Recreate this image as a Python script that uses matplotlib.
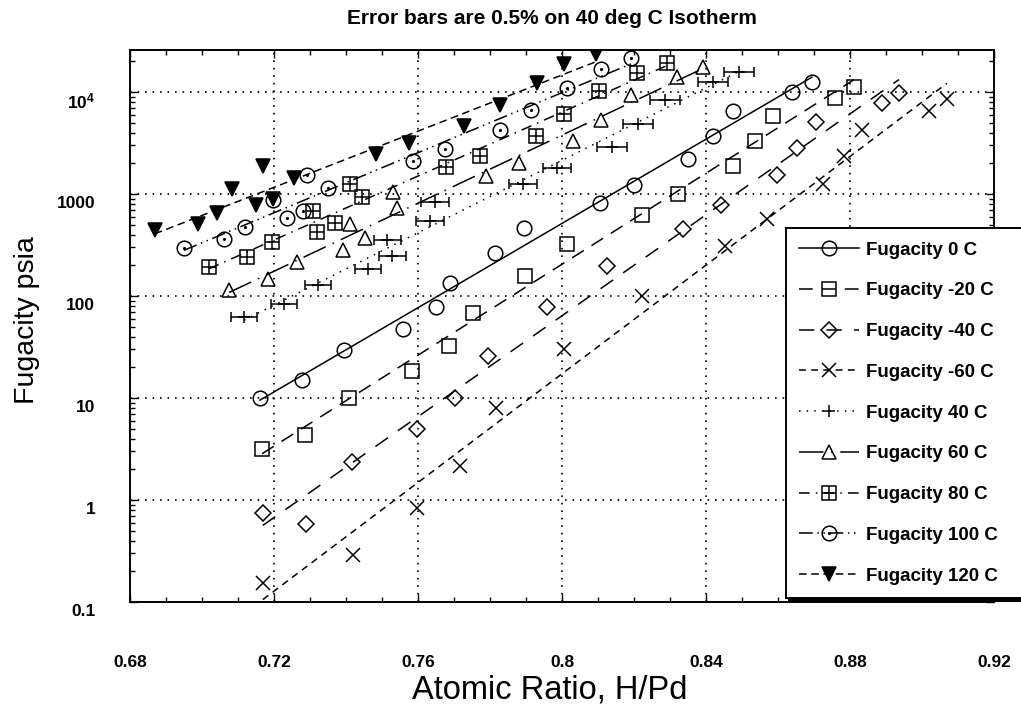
import numpy as np
import matplotlib
matplotlib.use("Agg")
import matplotlib.pyplot as plt
import matplotlib.transforms as mtransforms
from matplotlib.lines import Line2D
from matplotlib.ticker import FixedLocator, LogLocator, MultipleLocator, NullFormatter

plt.rcParams['font.family'] = ['Liberation Sans', 'DejaVu Sans']
plt.rcParams['mathtext.fontset'] = 'custom'
plt.rcParams['mathtext.rm'] = 'Liberation Sans'
plt.rcParams['mathtext.bf'] = 'Liberation Sans:bold'

# ---- data (H/Pd ratio, fugacity in psia) ----
x_0c = [0.7161, 0.7278, 0.7394, 0.7558, 0.7650, 0.7689, 0.7814, 0.7894, 0.8106, 0.8200, 0.8350, 0.8419, 0.8475, 0.8639, 0.8694]
f_0c = [10.1, 14.9, 29.4, 47.8, 78.6, 135, 266, 467, 811, 1225, 2188, 3704, 6510, 10070, 12620]

x_m20 = [0.7167, 0.7286, 0.7408, 0.7583, 0.7686, 0.7753, 0.7897, 0.8014, 0.8222, 0.8322, 0.8475, 0.8536, 0.8586, 0.8758, 0.8811]
f_m20 = [3.16, 4.34, 10.0, 18.4, 32.3, 68.1, 157, 323, 623, 1000, 1883, 3311, 5820, 8730, 11200]

x_m40 = [0.7169, 0.7289, 0.7417, 0.7597, 0.7703, 0.7794, 0.7958, 0.8125, 0.8336, 0.8442, 0.8597, 0.8653, 0.8706, 0.8889, 0.8936]
f_m40 = [0.75, 0.58, 2.36, 4.97, 10.0, 25.8, 78, 197, 454, 780, 1535, 2825, 5080, 7800, 9770]

x_m60 = [0.7169, 0.7419, 0.7597, 0.7717, 0.7817, 0.8006, 0.8222, 0.8453, 0.8569, 0.8725, 0.8783, 0.8833, 0.9019, 0.9069]
f_m60 = [0.153, 0.289, 0.835, 2.15, 7.98, 30.2, 100, 309, 569, 1253, 2360, 4240, 6510, 8540]

x_40 = [0.7117, 0.7228, 0.7322, 0.7461, 0.7514, 0.7528, 0.7633, 0.7647, 0.7892, 0.7986, 0.8139, 0.8211, 0.8286, 0.8419, 0.8492]
f_40 = [62.2, 83.5, 128, 184, 354, 247, 543, 835, 1253, 1798, 2890, 4850, 8350, 12530, 15700]

x_60 = [0.7075, 0.7183, 0.7264, 0.7392, 0.7411, 0.7453, 0.7531, 0.7542, 0.7789, 0.7881, 0.8031, 0.8108, 0.8192, 0.8319, 0.8392]
f_60 = [114.5, 146.8, 215, 282, 508, 370, 1047, 729, 1500, 2013, 3311, 5310, 9350, 14030, 17580]

x_80 = [0.7019, 0.7125, 0.7194, 0.7308, 0.7319, 0.7369, 0.7411, 0.7444, 0.7678, 0.7772, 0.7928, 0.8006, 0.8103, 0.8208, 0.8292]
f_80 = [192, 241, 338, 681, 424, 520, 1253, 935, 1841, 2360, 3704, 6080, 10230, 15350, 19240]

x_100 = [0.6950, 0.7061, 0.7119, 0.7197, 0.7236, 0.7281, 0.7292, 0.7350, 0.7586, 0.7675, 0.7828, 0.7914, 0.8014, 0.8108, 0.8192]
f_100 = [296, 362, 475, 873, 582, 681, 1535, 1145, 2108, 2763, 4240, 6660, 10940, 16790, 21550]

x_120 = [0.6869, 0.6989, 0.7042, 0.7083, 0.7150, 0.7169, 0.7197, 0.7256, 0.7483, 0.7575, 0.7728, 0.7828, 0.7931, 0.8006, 0.8094]
f_120 = [444, 508, 651, 1119, 780, 1883, 893, 1435, 2466, 3162, 4645, 7460, 12250, 18830, 23590]

labels = ["Fugacity 0 C", "Fugacity -20 C", "Fugacity -40 C", "Fugacity -60 C",
          "Fugacity 40 C", "Fugacity 60 C", "Fugacity 80 C", "Fugacity 100 C",
          "Fugacity 120 C"]

x_ticks = [0.68, 0.72, 0.76, 0.80, 0.84, 0.88, 0.92]
x_tick_labels = ["0.68", "0.72", "0.76", "0.8", "0.84", "0.88", "0.92"]
y_ticks = [0.1, 1, 10, 100, 1000, 1e4]
y_tick_labels = ["0.1", "1", "10", "100", "1000", r"$\mathbf{10^{4}}$"]

ERR_FRAC = 0.005   # 0.5 % error bars on the 40 C isotherm

# line style / marker per series: (linestyle, marker, size, filled, overlay)
STYLES = [
    ('-',               'o', 10.5, False, None),
    ((0, (9, 6)),       's', 9.5,  False, None),
    ((0, (10, 8)),      'D', 8.0,  False, None),
    ((0, (4.5, 3.5)),   'x', 10.0, False, None),
    ((0, (1, 4)),       '+', 9.0,  False, None),
    ((0, (16, 5, 1, 5)), '^', 9.5, False, None),
    ((0, (7, 4, 1, 4)), 's', 9.5,  False, '+'),
    ((0, (9, 3, 1, 3, 1, 3)), 'o', 10.5, False, '.'),
    ((0, (5, 3)),       'v', 10.0, True,  None),
]
DATA = [(x_0c, f_0c), (x_m20, f_m20), (x_m40, f_m40), (x_m60, f_m60),
        (x_40, f_40), (x_60, f_60), (x_80, f_80), (x_100, f_100), (x_120, f_120)]

LW = 1.1

fig = plt.figure(figsize=(10.21, 7.04), dpi=100)
ax = fig.add_axes([0.1273, 0.1449, 0.8463, 0.7841])
ax.set_yscale('log')

handles = []
for (x, f), (ls, mk, ms, filled, overlay), lab in zip(DATA, STYLES, labels):
    x = np.asarray(x)
    f = np.asarray(f)
    coef = np.polyfit(x, np.log10(f), 1)
    xs = np.linspace(x.min(), x.max(), 200)
    ax.plot(xs, 10 ** np.polyval(coef, xs), color='k', lw=LW, ls=ls, zorder=2)

    mfc = 'k' if filled else 'none'
    if lab == "Fugacity 40 C":
        ax.errorbar(x, f, xerr=ERR_FRAC * x, fmt='none', ecolor='k',
                    elinewidth=LW, capsize=3.5, capthick=LW, zorder=3)
    ax.plot(x, f, ls='none', marker=mk, ms=ms, mfc=mfc, mec='k', mew=LW, zorder=3)
    if overlay == '+':
        ax.plot(x, f, ls='none', marker='+', ms=ms, mec='k', mew=LW, zorder=3)
    elif overlay == '.':
        ax.plot(x, f, ls='none', marker='.', ms=2.5, mfc='k', mec='k', zorder=3)

    h = Line2D([], [], color='k', lw=LW, ls=ls, marker=mk, ms=ms, mfc=mfc,
               mec='k', mew=LW)
    if overlay == '+':
        h = (h, Line2D([], [], ls='none', marker='+', ms=ms, mec='k', mew=LW))
    elif overlay == '.':
        h = (h, Line2D([], [], ls='none', marker='.', ms=2.5, mfc='k', mec='k'))
    handles.append(h)

ax.set_xlim(0.68, 0.92)
ax.set_ylim(0.1, 25800)

ax.set_xticks(x_ticks)
ax.set_xticklabels(x_tick_labels)
ax.xaxis.set_minor_locator(MultipleLocator(0.01))
ax.yaxis.set_major_locator(FixedLocator(y_ticks))
ax.set_yticklabels(y_tick_labels)
ax.yaxis.set_minor_locator(LogLocator(base=10, subs=np.arange(2, 10)))
ax.yaxis.set_minor_formatter(NullFormatter())

ax.tick_params(which='both', direction='in', top=True, right=True, width=1.0)
ax.tick_params(which='major', length=6)
ax.tick_params(which='minor', length=3.5)
ax.tick_params(axis='x', which='major', pad=38, labelsize=12.5)
ax.tick_params(axis='y', which='major', pad=25, labelsize=12.5)
for t in ax.get_xticklabels() + ax.get_yticklabels():
    t.set_fontweight('bold')
shift = mtransforms.ScaledTranslation(0, -6 / 72, fig.dpi_scale_trans)
for t in ax.get_yticklabels():
    t.set_transform(t.get_transform() + shift)

ax.grid(True, which='major', color='k', lw=1.2, ls=(0, (1, 3.5)))
for sp in ax.spines.values():
    sp.set_linewidth(1.4)

leg = ax.legend(handles, labels, loc='upper left',
                bbox_to_anchor=(0.759, 0.004, 0.28, 0.6735), mode='expand',
                borderaxespad=0, frameon=True, fancybox=False, framealpha=1,
                edgecolor='k', shadow={'color': 'k', 'alpha': 1},
                prop={'weight': 'bold', 'size': 13.5}, handlelength=3.2,
                handletextpad=0.35, labelspacing=1.26, borderpad=0.72,
                numpoints=1)
leg.get_frame().set_linewidth(1.4)

fig.text(0.5406, 0.974, "Error bars are 0.5% on 40 deg C Isotherm",
         ha='center', va='center', fontsize=15, fontweight='bold')
fig.text(0.5387, 0.0085, "Atomic Ratio, H/Pd", ha='center', va='baseline',
         fontsize=23.5)
fig.text(0.026, 0.545, "Fugacity psia", ha='center', va='center',
         rotation=90, fontsize=20.5)

fig.savefig("out.png", dpi=100)
